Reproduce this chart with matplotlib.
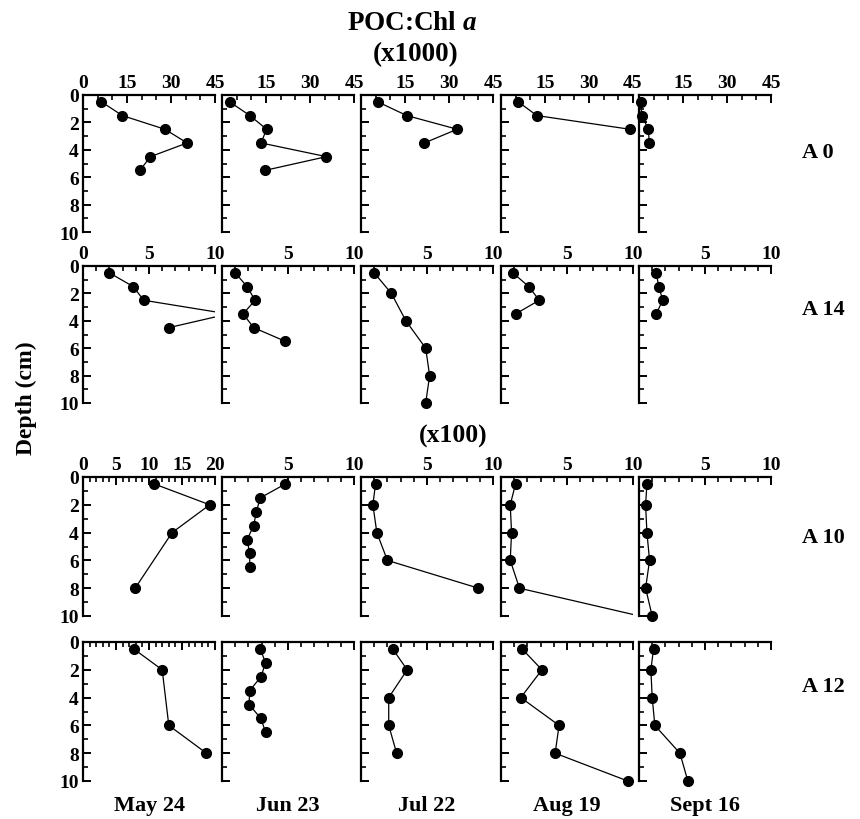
import matplotlib
matplotlib.use("Agg")
import matplotlib.pyplot as plt
from matplotlib.ticker import MultipleLocator
import numpy as np

plt.rcParams['font.family'] = ['Liberation Serif', 'DejaVu Serif']
plt.rcParams['font.weight'] = 'bold'
plt.rcParams['mathtext.fontset'] = 'custom'
plt.rcParams['mathtext.rm'] = 'Liberation Serif:bold'
plt.rcParams['mathtext.it'] = 'Liberation Serif:italic:bold'

dates = ["May 24", "Jun 23", "Jul 22", "Aug 19", "Sept 16"]
stations = ["A 0", "A 14", "A 10", "A 12"]

# Station A0 (x1000), columns = dates
a0_depths = [[0.5, 1.5, 2.5, 3.5, 4.5, 5.5],
             [0.5, 1.5, 2.5, 3.5, 4.5, 5.5],
             [0.5, 1.5, 2.5, 3.5],
             [0.5, 1.5, 2.5],
             [0.5, 1.5, 2.5, 3.5]]
a0_values = [[6.3, 13.4, 27.9, 35.5, 23.0, 19.4],
             [2.6, 9.5, 15.2, 13.3, 35.6, 14.7],
             [5.7, 15.6, 32.8, 21.6],
             [5.9, 12.2, 43.9],
             [0.6, 0.9, 3.2, 3.5]]

# Station A14 (x1000)
a14_depths = [[0.5, 1.5, 2.5, 3.5, 4.5],
              [0.5, 1.5, 2.5, 3.5, 4.5, 5.5],
              [0.5, 2, 4, 6, 8, 10],
              [0.5, 1.5, 2.5, 3.5],
              [0.5, 1.5, 2.5, 3.5]]
a14_values = [[2.0, 3.8, 4.6, 11.0, 6.5],
              [1.0, 1.9, 2.5, 1.6, 2.4, 4.8],
              [1.0, 2.3, 3.4, 4.9, 5.2, 4.9],
              [0.9, 2.1, 2.9, 1.1],
              [1.3, 1.5, 1.8, 1.3]]

# Station A10 (x100)
a10_depths = [[0.5, 2, 4, 8],
              [0.5, 1.5, 2.5, 3.5, 4.5, 5.5, 6.5],
              [0.5, 2, 4, 6, 8],
              [0.5, 2, 4, 6, 8, 10],
              [0.5, 2, 4, 6, 8, 10]]
a10_values = [[10.8, 19.2, 13.5, 7.9],
              [4.8, 2.9, 2.6, 2.4, 1.9, 2.1, 2.1],
              [1.1, 0.9, 1.2, 2.0, 8.9],
              [1.1, 0.7, 0.8, 0.7, 1.4, 10.5],
              [0.6, 0.5, 0.6, 0.8, 0.5, 1.0]]

# Station A12 (x100)
a12_depths = [[0.5, 2, 6, 8],
              [0.5, 1.5, 2.5, 3.5, 4.5, 5.5, 6.5],
              [0.5, 2, 4, 6, 8],
              [0.5, 2, 4, 6, 8, 10],
              [0.5, 2, 4, 6, 8, 10]]
a12_values = [[7.7, 12.0, 13.0, 18.7],
              [2.9, 3.3, 2.95, 2.1, 2.05, 2.95, 3.3],
              [2.4, 3.5, 2.1, 2.1, 2.7],
              [1.6, 3.1, 1.5, 4.4, 4.1, 9.6],
              [1.1, 0.9, 1.0, 1.2, 3.1, 3.7]]

row_depths = [a0_depths, a14_depths, a10_depths, a12_depths]
row_values = [a0_values, a14_values, a10_values, a12_values]

# x-axis settings per row: (max, major, minor) for first column and others
row_xaxis = [((45, 15, 5), (45, 15, 5)),
             ((10, 5, 1), (10, 5, 1)),
             ((20, 5, 1), (10, 5, 1)),
             ((20, 5, 1), (10, 5, 1))]
row_show_labels = [True, True, True, False]

W, H = 860, 820
fig = plt.figure(figsize=(W / 100, H / 100), dpi=100)

col_left = [83, 222, 361, 501, 639]
col_w = 132
row_top = [96, 267, 478, 643]
row_h = [137, 137, 139, 139]

def rect(l, t, w, h):
    return [l / W, 1 - (t + h) / H, w / W, h / H]

tick_fs = 14
for r in range(4):
    for c in range(5):
        ax = fig.add_axes(rect(col_left[c], row_top[r], col_w, row_h[r]))
        xmax, major, minor = row_xaxis[r][0] if c == 0 else row_xaxis[r][1]
        d = np.array(row_depths[r][c])
        v = np.array(row_values[r][c])
        ax.plot(v, d, color='black', lw=0.9, clip_on=True, zorder=2)
        inside = v <= xmax
        ax.plot(v[inside], d[inside], linestyle='none', marker='o',
                ms=7, color='black', clip_on=False, zorder=3)
        ax.set_xlim(0, xmax)
        ax.set_ylim(10, 0)
        ax.xaxis.set_major_locator(MultipleLocator(major))
        ax.xaxis.set_minor_locator(MultipleLocator(minor))
        ax.yaxis.set_major_locator(MultipleLocator(2))
        ax.yaxis.set_minor_locator(MultipleLocator(1))
        for s in ['right', 'bottom']:
            ax.spines[s].set_visible(False)
        for s in ['left', 'top']:
            ax.spines[s].set_linewidth(1.6)
        ax.xaxis.tick_top()
        ax.tick_params(axis='both', which='major', direction='in', length=6,
                       width=1.4, labelsize=tick_fs, pad=3)
        ax.tick_params(axis='both', which='minor', direction='in', length=3.5,
                       width=1.2)
        ax.tick_params(axis='x', which='both', top=True, bottom=False,
                       labeltop=row_show_labels[r], labelbottom=False)
        ax.tick_params(axis='y', which='both', left=True, right=False,
                       labelleft=(c == 0))
        ax.set_facecolor('none')
        if row_show_labels[r]:
            ticks = np.arange(0, xmax + 0.001, major)
            ax.set_xticks(ticks)
            labels = [("%g" % t) for t in ticks]
            if c > 0:
                labels[0] = ""
            ax.set_xticklabels(labels, fontweight='bold')
        for lab in ax.get_yticklabels():
            lab.set_fontweight('bold')

def ftext(x, y, s, **kw):
    fig.text(x / W, 1 - y / H, s, **kw)

ftext(412, 23, "POC:Chl $a$", ha='center', va='center', fontsize=19.5, fontweight='bold')
ftext(416, 55, "(x1000)", ha='center', va='center', fontsize=19.5, fontweight='bold')
ftext(453, 436, "(x100)", ha='center', va='center', fontsize=18.5, fontweight='bold')
ftext(26, 398, "Depth (cm)", ha='center', va='center', rotation=90, fontsize=17, fontweight='bold')

row_label_y = [153, 310, 538, 687]
for lbl, y in zip(stations, row_label_y):
    ftext(802, y, lbl, ha='left', va='center', fontsize=16, fontweight='bold')

for c, lbl in enumerate(dates):
    ftext(col_left[c] + col_w / 2, 806, lbl, ha='center', va='center', fontsize=16, fontweight='bold')

fig.savefig("out.png", dpi=100, facecolor='white')
